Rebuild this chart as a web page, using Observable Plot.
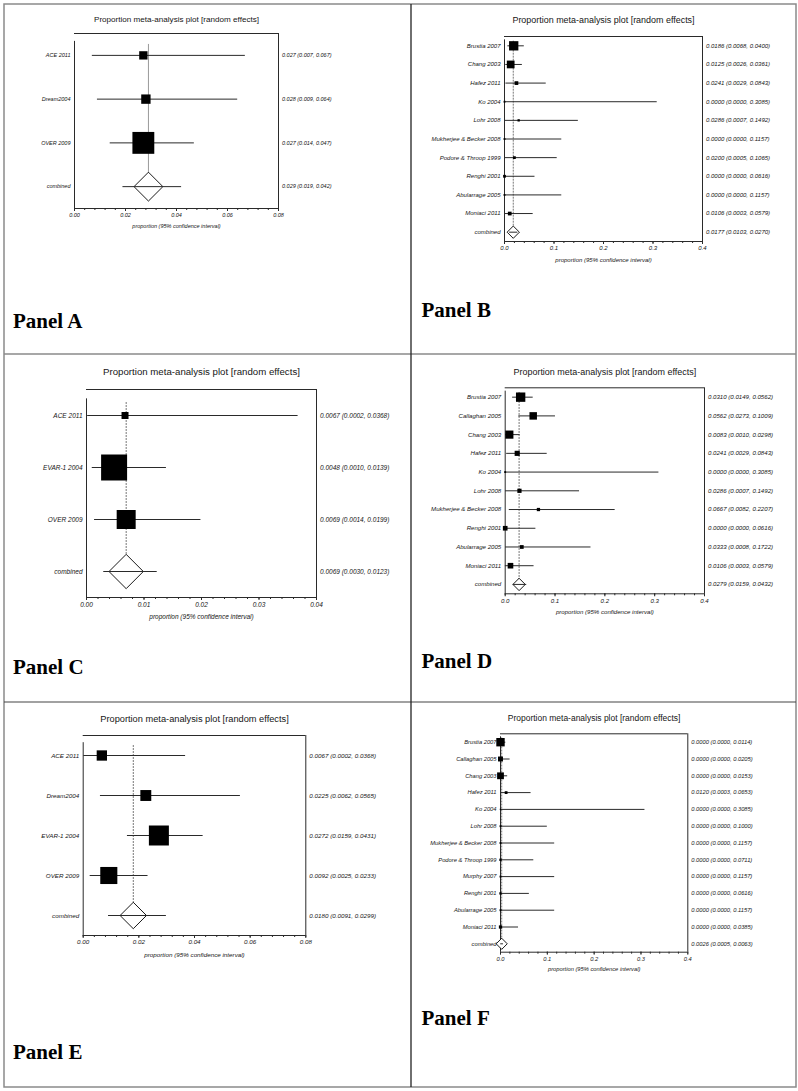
<!DOCTYPE html>
<html><head><meta charset="utf-8">
<script src="https://cdn.jsdelivr.net/npm/d3@7"></script>
<script src="https://cdn.jsdelivr.net/npm/@observablehq/plot@0.6"></script>
<style>
html,body{margin:0;padding:0;background:#fff;}
#fig{position:relative;width:798px;height:1091px;overflow:hidden;}
#fig svg{position:absolute;}
</style></head><body><div id="fig"></div>
<script>
// ---------- DATA ----------
// Panel A
const studiesA = ["ACE 2011", "Dream2004", "OVER 2009"];
const estA  = [0.027, 0.028, 0.027];
const lowA  = [0.007, 0.009, 0.014];
const highA = [0.067, 0.064, 0.047];
const weightA = [10.9, 13.8, 75.3];
const pooledA = [0.029, 0.019, 0.042];
const ticksA = [0, 0.02, 0.04, 0.06, 0.08];

// Panel B
const studiesB = ["Brustia 2007", "Chang 2003", "Hafez 2011", "Ko 2004", "Lohr 2008", "Mukherjee & Becker 2008", "Podore & Throop 1999", "Renghi 2001", "Abularrage 2005", "Moniaci 2011"];
const estB  = [0.0186, 0.0125, 0.0241, 0.0000, 0.0286, 0.0000, 0.0200, 0.0000, 0.0000, 0.0106];
const lowB  = [0.0068, 0.0026, 0.0029, 0.0000, 0.0007, 0.0000, 0.0005, 0.0000, 0.0000, 0.0003];
const highB = [0.0400, 0.0361, 0.0843, 0.3085, 0.1492, 0.1157, 0.1065, 0.0616, 0.1157, 0.0579];
const weightB = [42.2, 29.1, 6.8, 1.7, 2.6, 1.7, 3.8, 3.8, 1.7, 6.8];
const pooledB = [0.0177, 0.0103, 0.0270];
const ticksB = [0, 0.1, 0.2, 0.3, 0.4];

// Panel C
const studiesC = ["ACE 2011", "EVAR-1 2004", "OVER 2009"];
const estC  = [0.0067, 0.0048, 0.0069];
const lowC  = [0.0002, 0.0010, 0.0014];
const highC = [0.0368, 0.0139, 0.0199];
const weightC = [4.5, 62.2, 33.2];
const pooledC = [0.0069, 0.0030, 0.0123];
const ticksC = [0, 0.01, 0.02, 0.03, 0.04];

// Panel D
const studiesD = ["Brustia 2007", "Callaghan 2005", "Chang 2003", "Hafez 2011", "Ko 2004", "Lohr 2008", "Mukherjee & Becker 2008", "Renghi 2001", "Abularrage 2005", "Moniaci 2011"];
const estD  = [0.0310, 0.0562, 0.0083, 0.0241, 0.0000, 0.0286, 0.0667, 0.0000, 0.0333, 0.0106];
const lowD  = [0.0149, 0.0273, 0.0010, 0.0029, 0.0000, 0.0007, 0.0082, 0.0000, 0.0008, 0.0003];
const highD = [0.0562, 0.1009, 0.0298, 0.0843, 0.3085, 0.1492, 0.2207, 0.0616, 0.1722, 0.0579];
const weightD = [26.1, 16.7, 19.8, 7.9, 1.0, 5.3, 3.2, 6.5, 4.2, 9.4];
const pooledD = [0.0279, 0.0159, 0.0432];
const ticksD = [0, 0.1, 0.2, 0.3, 0.4];

// Panel E
const studiesE = ["ACE 2011", "Dream2004", "EVAR-1 2004", "OVER 2009"];
const estE  = [0.0067, 0.0225, 0.0272, 0.0092];
const lowE  = [0.0002, 0.0062, 0.0159, 0.0025];
const highE = [0.0368, 0.0565, 0.0431, 0.0233];
const weightE = [11.6, 13.0, 43.6, 31.8];
const pooledE = [0.0180, 0.0091, 0.0299];
const ticksE = [0, 0.02, 0.04, 0.06, 0.08];

// Panel F
const studiesF = ["Brustia 2007", "Callaghan 2005", "Chang 2003", "Hafez 2011", "Ko 2004", "Lohr 2008", "Mukherjee & Becker 2008", "Podore & Throop 1999", "Murphy 2007", "Renghi 2001", "Abularrage 2005", "Moniaci 2011"];
const estF  = [0.0000, 0.0000, 0.0000, 0.0120, 0.0000, 0.0000, 0.0000, 0.0000, 0.0000, 0.0000, 0.0000, 0.0000];
const lowF  = [0.0000, 0.0000, 0.0000, 0.0003, 0.0000, 0.0000, 0.0000, 0.0000, 0.0000, 0.0000, 0.0000, 0.0000];
const highF = [0.0114, 0.0205, 0.0153, 0.0653, 0.3085, 0.1000, 0.1157, 0.0711, 0.1157, 0.0616, 0.1157, 0.0385];
const weightF = [37.8, 13.1, 24.8, 4.2, 1.1, 1.9, 1.9, 2.9, 1.9, 2.9, 1.9, 5.7];
const pooledF = [0.0026, 0.0005, 0.0063];
const ticksF = [0, 0.1, 0.2, 0.3, 0.4];

const titleText = "Proportion meta-analysis plot [random effects]";
const xLabelText = "proportion (95% confidence interval)";
const combinedLabel = "combined";

// ---------- LAYOUT ----------
const panels = [
  {label:"Panel A", studies:studiesA, est:estA, low:lowA, high:highA, weight:weightA, pooled:pooledA, ticks:ticksA,
   minorStep:0.004, digits:3, tickDigits:2, cell:[4,4,407,350], frame:[74,33,278,208], title:8.1, small:5.5, tGap:17, xGap:19, solid:true, lab:[13,328]},
  {label:"Panel B", studies:studiesB, est:estB, low:lowB, high:highB, weight:weightB, pooled:pooledB, ticks:ticksB,
   minorStep:0.02, digits:4, tickDigits:1, cell:[411,4,385,350], frame:[504,36,702,241], title:8.95, small:6.0, tGap:20, xGap:20, solid:false, lab:[421.5,317]},
  {label:"Panel C", studies:studiesC, est:estC, low:lowC, high:highC, weight:weightC, pooled:pooledC, ticks:ticksC,
   minorStep:0.002, digits:4, tickDigits:2, cell:[4,354,407,348], frame:[86,389,316,597], title:9.66, small:6.5, tGap:21, xGap:21, solid:false, lab:[13,674]},
  {label:"Panel D", studies:studiesD, est:estD, low:lowD, high:highD, weight:weightD, pooled:pooledD, ticks:ticksD,
   minorStep:0.02, digits:4, tickDigits:1, cell:[411,354,385,348], frame:[504.7,387.3,704,593.3], title:8.97, small:6.1, tGap:19.3, xGap:19.7, solid:false, lab:[421.5,668]},
  {label:"Panel E", studies:studiesE, est:estE, low:lowE, high:highE, weight:weightE, pooled:pooledE, ticks:ticksE,
   minorStep:0.004, digits:4, tickDigits:2, cell:[4,702,407,385], frame:[82.7,735,305.3,935], title:9.26, small:6.25, tGap:20, xGap:21.7, solid:false, lab:[13,1059]},
  {label:"Panel F", studies:studiesF, est:estF, low:lowF, high:highF, weight:weightF, pooled:pooledF, ticks:ticksF,
   minorStep:0.02, digits:4, tickDigits:1, cell:[411,702,385,385], frame:[500,733.3,687.3,951.7], title:8.48, small:5.75, tGap:19, xGap:19, solid:false, lab:[421.5,1025]}
];

const squareSym = {draw(ctx, size){ const s = Math.sqrt(size / Math.PI); ctx.rect(-s, -s, 2*s, 2*s); }};
const diamondSym = {draw(ctx, size){ const s = Math.sqrt(size / Math.PI); ctx.moveTo(0,-s); ctx.lineTo(s,0); ctx.lineTo(0,s); ctx.lineTo(-s,0); ctx.closePath(); }};

const FONT = "'Liberation Sans', Arial, Helvetica, sans-serif";
const ink = "#2a2a2a";

function forest(p){
  const n = p.studies.length + 1;
  const [cx, cy, cw, ch] = p.cell;
  const [fl, ft, fr, fb] = p.frame;
  const rowPx = (fb - ft) / n;
  const xmax = p.ticks[p.ticks.length - 1];
  const fmt = d3.format("." + p.digits + "f");
  const rows = p.studies.map((name, i) => ({name, est:p.est[i], lo:p.low[i], hi:p.high[i], w:p.weight[i], i}));
  const comb = {name:combinedLabel, est:p.pooled[0], lo:p.pooled[1], hi:p.pooled[2], i:n-1};
  const all = [...rows, comb];
  const minor = d3.range(0, Math.round(xmax / p.minorStep) + 1).map(k => k * p.minorStep);
  const small = {fontSize:p.small, fontStyle:"italic", fill:"#151515"};
  const svg = Plot.plot({
    width:cw, height:ch,
    marginLeft:fl-cx, marginRight:cx+cw-fr, marginTop:ft-cy, marginBottom:cy+ch-fb,
    x:{domain:[0, xmax], axis:null},
    y:{domain:[-0.5, n-0.5], reverse:true, axis:null},
    r:{type:"sqrt", domain:[0, d3.max(p.weight)], range:[0, rowPx*0.25]},
    style:{fontFamily:FONT, background:"transparent", overflow:"visible", color:ink},
    marks:[
      Plot.ruleY([-0.5], {x1:0, x2:xmax, stroke:ink}),
      Plot.ruleX([xmax], {y1:-0.5, y2:n-0.5, stroke:ink}),
      Plot.ruleX([0], {y1:-0.32, y2:n-0.5, stroke:ink}),
      Plot.ruleY([n-0.5], {x1:0, x2:xmax, stroke:ink}),
      Plot.axisX({ticks:minor, tickSize:2, fill:"none", label:null, stroke:ink}),
      Plot.axisX({ticks:p.ticks, tickSize:3, tickPadding:1.5, tickFormat:d3.format("." + p.tickDigits + "f"),
                  label:null, stroke:ink, fill:"#151515", fontSize:p.small, fontStyle:"italic"}),
      Plot.ruleX([p.pooled[0]], {y1:-0.25, y2:n-1+0.33, stroke:p.solid ? "#999" : "#777",
                 strokeDasharray:p.solid ? null : "2,1"}),
      Plot.ruleY(rows, {y:"i", x1:"lo", x2:"hi", stroke:ink}),
      Plot.dot(rows, {x:"est", y:"i", r:"w", symbol:squareSym, fill:"#000"}),
      Plot.dot([comb], {x:"est", y:"i", r:rowPx*0.33, symbol:diamondSym, fill:"#fff", stroke:"#000", strokeWidth:0.9}),
      Plot.ruleY([comb], {y:"i", x1:"lo", x2:"hi", stroke:ink}),
      Plot.text(all, {x:0, y:"i", text:"name", textAnchor:"end", dx:-4, ...small}),
      Plot.text(all, {x:xmax, y:"i", text:d => `${fmt(d.est)} (${fmt(d.lo)}, ${fmt(d.hi)})`, textAnchor:"start", dx:3.5, ...small}),
      Plot.text([titleText], {text:d => d, frameAnchor:"top", dy:-p.tGap, fontSize:p.title, fill:"#151515"}),
      Plot.text([xLabelText], {text:d => d, frameAnchor:"bottom", dy:p.xGap, ...small})
    ]
  });
  svg.style.left = cx + "px";
  svg.style.top = cy + "px";
  return svg;
}

const fig = document.getElementById("fig");
for (const p of panels) fig.appendChild(forest(p));

// Overlay: grid borders and panel labels
const ov = d3.select(fig).append("svg").attr("width", 798).attr("height", 1091)
  .style("left", "0px").style("top", "0px").style("pointer-events", "none");
ov.append("rect").attr("x", 4).attr("y", 4).attr("width", 792).attr("height", 1083)
  .attr("fill", "none").attr("stroke", "#8a8a8a").attr("stroke-width", 1.5);
ov.append("line").attr("x1", 4).attr("x2", 796).attr("y1", 354).attr("y2", 354).attr("stroke", "#8a8a8a").attr("stroke-width", 1.5);
ov.append("line").attr("x1", 4).attr("x2", 796).attr("y1", 702).attr("y2", 702).attr("stroke", "#444").attr("stroke-width", 1.2);
ov.append("line").attr("x1", 411).attr("x2", 411).attr("y1", 4).attr("y2", 1087).attr("stroke", "#222").attr("stroke-width", 1.3);
for (const p of panels) {
  ov.append("text").attr("x", p.lab[0]).attr("y", p.lab[1]).text(p.label)
    .attr("font-family", "'Liberation Serif', 'DejaVu Serif', serif").attr("font-weight", "bold")
    .attr("font-size", 21).attr("fill", "#000");
}
</script>
</body></html>
